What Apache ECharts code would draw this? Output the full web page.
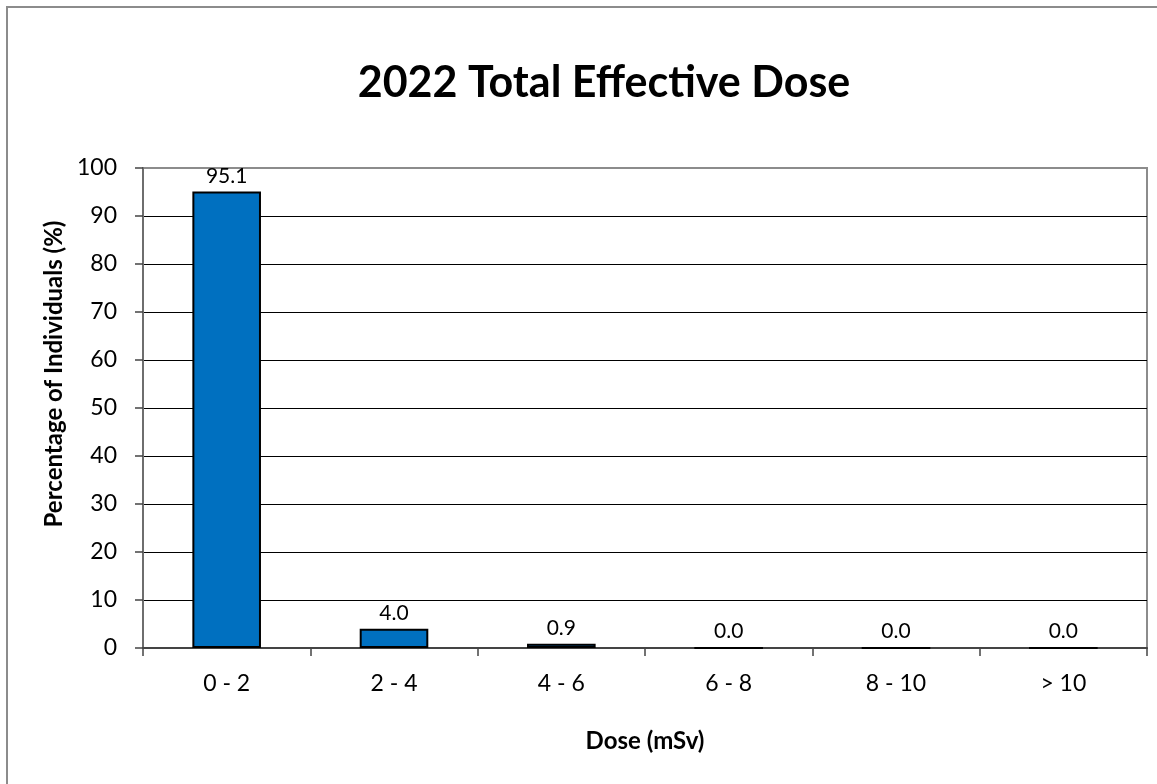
<!DOCTYPE html>
<html>
<head>
<meta charset="utf-8">
<script src="https://cdn.jsdelivr.net/npm/echarts@6/dist/echarts.min.js"></script>
<style>
  html, body { margin: 0; padding: 0; background: #fff; }
  #chart { width: 1157px; height: 784px; }
</style>
</head>
<body>
<div id="chart"></div>
<script>
// Dose bands and share of monitored individuals in each band
const doseBands = ['0 - 2', '2 - 4', '4 - 6', '6 - 8', '8 - 10', '> 10'];
const percentIndividuals = [95.1, 4.0, 0.9, 0.0, 0.0, 0.0];
const yTicks = [0, 10, 20, 30, 40, 50, 60, 70, 80, 90, 100];

const FONT = 'Lato, "Open Sans", sans-serif';

const chart = echarts.init(document.getElementById('chart'), null, { renderer: 'canvas' });

// top gridline doubles as the plot frame, so draw it grey like the frame
const splitColors = yTicks.map(function (v) { return v === 100 ? '#8c8c8c' : '#000000'; });

chart.setOption({
  backgroundColor: '#ffffff',
  animation: false,
  title: {
    text: '2022 Total Effective Dose',
    left: 599,
    textAlign: 'center',
    top: 57,
    textStyle: { fontFamily: FONT, fontSize: 43, fontWeight: 'bold', color: '#000' }
  },
  graphic: [{
    type: 'rect',
    shape: { x: 7, y: 7, width: 1170, height: 800 },
    style: { fill: 'none', stroke: '#8c8c8c', lineWidth: 2 },
    silent: true
  }],
  grid: {
    left: 143, right: 10, top: 168, bottom: 136,
    show: true, borderColor: '#8c8c8c', borderWidth: 2, backgroundColor: 'transparent'
  },
  xAxis: {
    type: 'category',
    data: doseBands,
    name: 'Dose (mSv)',
    nameLocation: 'middle',
    nameGap: 81,
    nameTextStyle: { fontFamily: FONT, fontSize: 24, fontWeight: 'bold', color: '#000' },
    axisLine: { lineStyle: { color: '#444', width: 2 } },
    axisTick: { show: true, alignWithLabel: false, length: 8, lineStyle: { color: '#444', width: 1.5 } },
    axisLabel: { fontFamily: FONT, fontSize: 23, color: '#000', margin: 24 }
  },
  yAxis: {
    type: 'value',
    min: 0, max: 100, interval: 10,
    name: 'Percentage of Individuals (%)',
    nameLocation: 'middle',
    nameGap: 76,
    nameTextStyle: {
      fontFamily: FONT, fontSize: 24, fontWeight: 'bold', color: '#000',
      padding: [0, 0, 0, 68]
    },
    axisLine: { show: true, lineStyle: { color: '#6e6e6e', width: 2 } },
    axisTick: { show: true, length: 8, lineStyle: { color: '#444', width: 1.5 } },
    axisLabel: { fontFamily: FONT, fontSize: 23, color: '#000', margin: 26 },
    splitLine: { show: true, lineStyle: { color: splitColors, width: 1 } }
  },
  series: [{
    type: 'bar',
    data: percentIndividuals,
    barWidth: '41%',
    itemStyle: { color: '#0070c0', borderColor: '#000', borderWidth: 2 },
    label: {
      show: true,
      position: 'top',
      distance: 5,
      fontFamily: FONT,
      fontSize: 21,
      color: '#000',
      formatter: function (p) { return p.value.toFixed(1); }
    }
  }]
});
</script>
</body>
</html>
